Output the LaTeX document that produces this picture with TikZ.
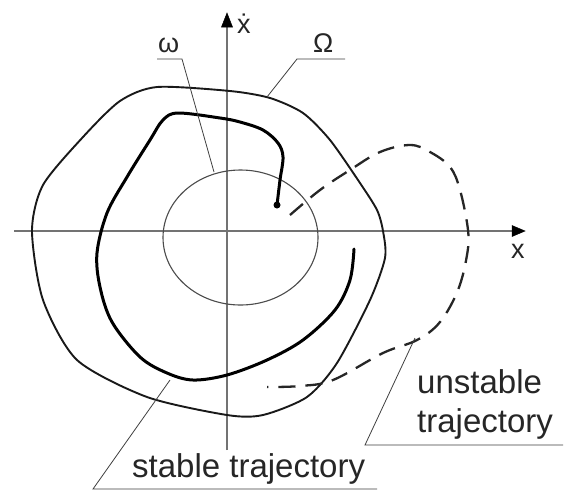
\documentclass[tikz,border=0pt]{standalone}
\usepackage{fontspec}
\setmainfont{Liberation Sans}
\tikzset{
  axisline/.style={draw=black!55, line width=1.8pt},
  axistip/.style={fill=black, draw=black, line width=0.5pt, line join=miter},
  leader/.style={draw=black!75, line width=0.8pt},
  bigtext/.style={font=\fontsize{33}{36}\selectfont, text=black!85, inner sep=0pt},
  smalltext/.style={font=\fontsize{27}{30}\selectfont, text=black!85, inner sep=0pt},
  outercurve/.style={draw=black!90, line width=1.9pt},
  stablecurve/.style={draw=black, line width=3pt, line cap=round},
  unstablecurve/.style={draw=black!85, line width=2.3pt, dash pattern=on 17pt off 10pt},
  innercircle/.style={draw=black!70, line width=1.1pt}
}
\begin{document}
\begin{tikzpicture}[x=1pt,y=-1pt]
\useasboundingbox (0,0) rectangle (564,491);
\fill[white] (0,0) rectangle (564,491);
% axes
\coordinate (xs) at (14,231);
\coordinate (xe) at (513,231);
\coordinate (ys) at (227,450);
\coordinate (ye) at (227,26);
\draw[axisline] (xs) -- (xe);
\draw[axisline] (ys) -- (ye);
\coordinate (xt) at (525,231);
\coordinate (xa) at (512,225.5);
\coordinate (xb) at (512,236.5);
\coordinate (yt) at (227,13);
\coordinate (ya) at (221.5,27);
\coordinate (yb) at (232.5,27);
\filldraw[axistip] (xt) -- (xa) -- (xb) -- cycle;
\filldraw[axistip] (yt) -- (ya) -- (yb) -- cycle;
\node[smalltext, anchor=base west] (xlab) at (511,258) {x};
\node[smalltext, anchor=base west] (ydlab) at (237,33) {\.{x}};
% inner circle omega
\draw[innercircle] (240.5,237.5) ellipse [x radius=77.5, y radius=67.5];
% outer curve Omega
\draw[outercurve] plot[smooth cycle, tension=0.45] coordinates {
 (157,87) (230,91) (270,98) (303,113) (330,140) (360,183) (377,210) (383,231) (385,258)
 (370,300) (337,363) (307,397) (263,415) (227,415) (147,397) (77,360) (43,300)
 (32,231) (43,185) (83,137) (120,101)};
% stable trajectory
\draw[stablecurve] plot[smooth, tension=0.55] coordinates {
 (277,205) (280,180) (283,157) (278,143) (263,130) (240,122) (220,118) (178,113)
 (163,120) (150,140) (127,177) (107,213) (97,253) (100,287) (112,322) (140,357)
 (167,373) (193,380) (227,375) (267,360) (303,340) (335,310) (350,280) (354,249)};
\fill (277,205) circle (3.5pt);
% unstable trajectory
\draw[unstablecurve] plot[smooth, tension=0.6] coordinates {
 (290,215) (320,190) (350,170) (380,152) (410,145) (430,152) (450,167) (460,190)
 (468,230) (467,255) (458,290) (440,322) (417,340) (383,353) (333,380) (300,386) (267,387)};
% labels
\node[smalltext, anchor=base west] (om) at (158,52) {ω};
\node[smalltext, anchor=base west] (OM) at (313,52) {Ω};
\coordinate (om1) at (157,59);
\coordinate (om2) at (182,59);
\coordinate (om3) at (214,172);
\draw[leader] (om1) -- (om2) -- (om3);
\coordinate (OM1) at (345,59);
\coordinate (OM2) at (297,59);
\coordinate (OM3) at (267,97);
\draw[leader] (OM1) -- (OM2) -- (OM3);
\node[bigtext, anchor=base west] (st) at (132,477) {stable trajectory};
\coordinate (st1) at (170,380);
\coordinate (st2) at (93,489);
\coordinate (st3) at (377,489);
\draw[leader] (st1) -- (st2) -- (st3);
\node[bigtext, anchor=base west] (un1) at (417,393) {unstable};
\node[bigtext, anchor=base west] (un2) at (417,432) {trajectory};
\coordinate (ut1) at (415,338);
\coordinate (ut2) at (365,445);
\coordinate (ut3) at (563,445);
\draw[leader] (ut1) -- (ut2) -- (ut3);
\end{tikzpicture}
\end{document}
